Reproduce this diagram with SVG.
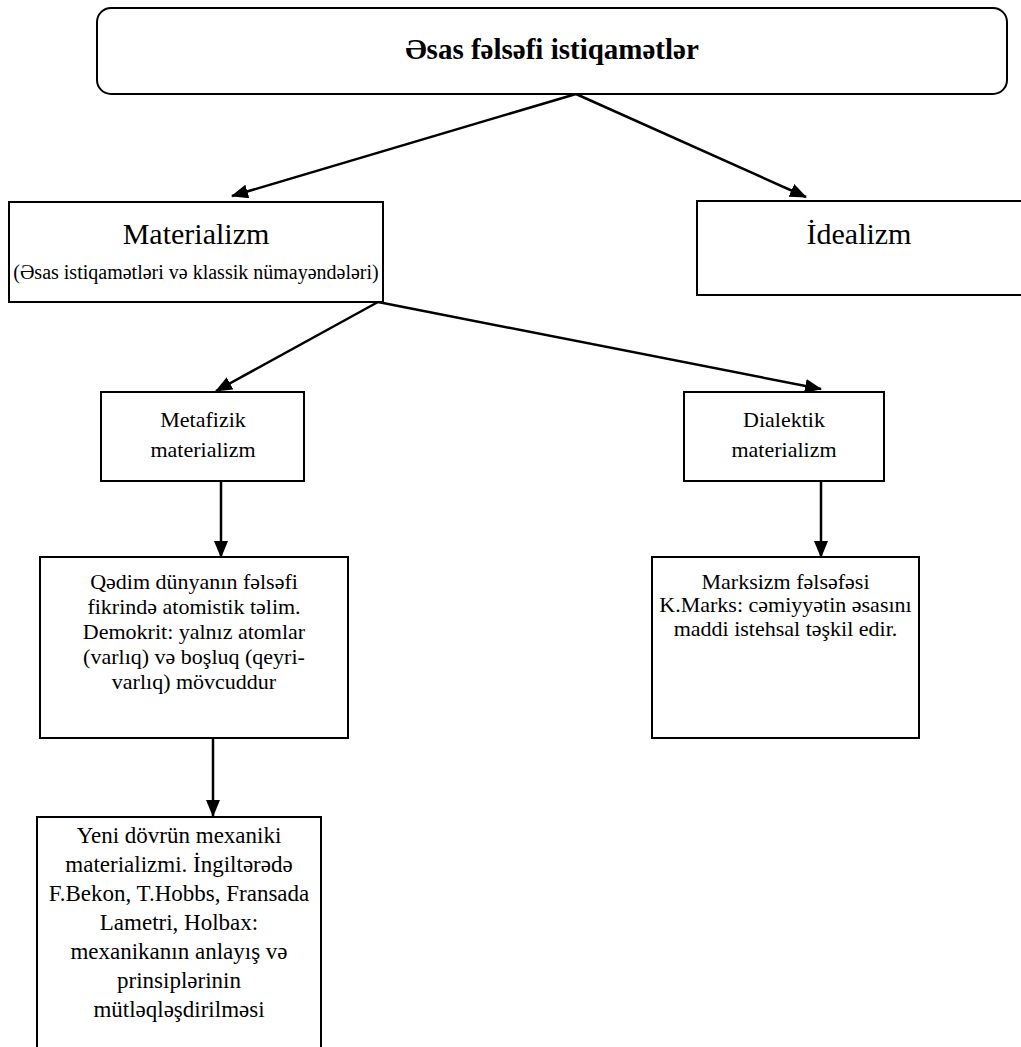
<svg xmlns="http://www.w3.org/2000/svg" width="1021" height="1047" viewBox="0 0 1021 1047">
<style>
.box{fill:#fff;stroke:#000;stroke-width:2}
.t{font-family:"Liberation Serif","Times New Roman","DejaVu Serif",serif;fill:#000;text-anchor:middle}
.s22{font-size:22px}
.s23{font-size:23px}
.conn{stroke:#000;stroke-width:2.5;fill:none;marker-end:url(#ah)}
</style>
<defs>
<marker id="ah" markerUnits="userSpaceOnUse" markerWidth="17" markerHeight="14" refX="16" refY="7" orient="auto">
<path d="M0,0 L17,7 L0,14 z" fill="#000"/>
</marker>
</defs>
<rect width="1021" height="1047" fill="#fff"/>
<g id="connectors">
<line class="conn" x1="576" y1="94" x2="232" y2="196"/>
<line class="conn" x1="576" y1="94" x2="806" y2="197"/>
<line class="conn" x1="378" y1="302" x2="216" y2="391"/>
<line class="conn" x1="378" y1="302" x2="821" y2="389"/>
<line class="conn" x1="221" y1="481" x2="221" y2="557"/>
<line class="conn" x1="821" y1="481" x2="821" y2="557"/>
<line class="conn" x1="213" y1="737" x2="213" y2="816"/>
</g>
<g id="root">
<rect class="box" x="97" y="8" width="910" height="86" rx="14"/>
<text class="t" x="552" y="59" font-size="29" font-weight="bold">Əsas fəlsəfi istiqamətlər</text>
</g>
<g id="materializm">
<rect class="box" x="9" y="202" width="374" height="100"/>
<text class="t" x="196" y="244" font-size="30">Materializm</text>
<text class="t" x="196" y="279" font-size="20">(Əsas istiqamətləri və klassik nümayəndələri)</text>
</g>
<g id="idealizm">
<path class="box" d="M1021,201 H697 V295 H1021"/>
<text class="t" x="859" y="244" font-size="30">İdealizm</text>
</g>
<g id="metafizik">
<rect class="box" x="101" y="392" width="203" height="89"/>
<text class="t s22" x="203" y="427">Metafizik</text>
<text class="t s22" x="203" y="457">materializm</text>
</g>
<g id="dialektik">
<rect class="box" x="684" y="392" width="200" height="89"/>
<text class="t s22" x="784" y="427">Dialektik</text>
<text class="t s22" x="784" y="457">materializm</text>
</g>
<g id="qedim">
<rect class="box" x="40" y="557" width="308" height="181"/>
<text class="t s22" x="194" y="589">Qədim dünyanın fəlsəfi</text>
<text class="t s22" x="194" y="614">fikrində atomistik təlim.</text>
<text class="t s22" x="194" y="639">Demokrit: yalnız atomlar</text>
<text class="t s22" x="194" y="664">(varlıq) və boşluq (qeyri-</text>
<text class="t s22" x="194" y="689">varlıq) mövcuddur</text>
</g>
<g id="marksizm">
<rect class="box" x="652" y="557" width="267" height="181"/>
<text class="t s22" x="785.5" y="589">Marksizm fəlsəfəsi</text>
<text class="t s22" x="785.5" y="612">K.Marks: cəmiyyətin əsasını</text>
<text class="t s22" x="785.5" y="636">maddi istehsal təşkil edir.</text>
</g>
<g id="yeni">
<path class="box" d="M37,1048 V817 H321 V1048"/>
<text class="t s23" x="179" y="843">Yeni dövrün mexaniki</text>
<text class="t s23" x="179" y="872">materializmi. İngiltərədə</text>
<text class="t s23" x="179" y="901">F.Bekon, T.Hobbs, Fransada</text>
<text class="t s23" x="179" y="930">Lametri, Holbax:</text>
<text class="t s23" x="179" y="959">mexanikanın anlayış və</text>
<text class="t s23" x="179" y="988">prinsiplərinin</text>
<text class="t s23" x="179" y="1017">mütləqləşdirilməsi</text>
</g>
</svg>
